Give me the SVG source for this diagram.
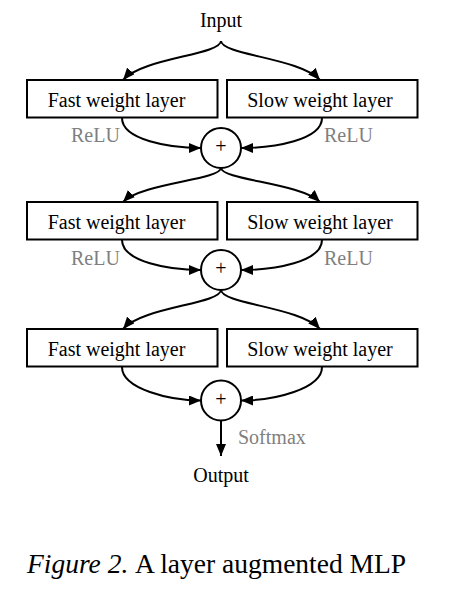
<svg xmlns="http://www.w3.org/2000/svg" width="457" height="610" viewBox="0 0 457 610">
<style>
  text { font-family: "Liberation Serif", "Times New Roman", serif; fill: #000; }
  .t { font-size: 20px; text-anchor: middle; }
  .lbl { font-size: 20px; fill: #7f7f7f; }
  .box { fill: #fff; stroke: #000; stroke-width: 2; }
  .sum { fill: #fff; stroke: #000; stroke-width: 2; }
  .plus { font-size: 20px; text-anchor: middle; }
  .edge { fill: none; stroke: #000; stroke-width: 2; marker-end: url(#arr); }
  .cap { font-size: 27.5px; }
</style>
<defs>
  <marker id="arr" markerUnits="userSpaceOnUse" markerWidth="13" markerHeight="10" refX="12" refY="5" orient="auto">
    <path d="M0,0 L12,5 L0,10 z" fill="#000"/>
  </marker>
</defs>
<rect width="457" height="610" fill="#fff"/>

<g id="connectors">
  <path class="edge" d="M221,41 C220,55 142,58 123,80"/>
  <path class="edge" d="M221,41 C222,55 300,58 320,80"/>
  <path class="edge" d="M122,118 C122,140 170,148 201,148"/>
  <path class="edge" d="M322,118 C322,140 274,148 241,148"/>
  <path class="edge" d="M221,168 C220,180 142,183 123,202"/>
  <path class="edge" d="M221,168 C222,180 300,183 320,202"/>
  <path class="edge" d="M122,240 C122,262 170,270 201,270"/>
  <path class="edge" d="M322,240 C322,262 274,270 241,270"/>
  <path class="edge" d="M221,290 C220,304 142,307 123,329"/>
  <path class="edge" d="M221,290 C222,304 300,307 320,329"/>
  <path class="edge" d="M122,367 C122,389 170,400.5 201,400.5"/>
  <path class="edge" d="M322,367 C322,389 274,400.5 241,400.5"/>
  <path class="edge" d="M221,420.5 L221,456"/>
  <text class="lbl" x="71" y="142">ReLU</text>
  <text class="lbl" x="324" y="142">ReLU</text>
  <text class="lbl" x="71" y="265">ReLU</text>
  <text class="lbl" x="324" y="265">ReLU</text>
  <text class="lbl" x="238" y="443.5">Softmax</text>
</g>

<g id="input"><text class="t" x="221" y="27">Input</text></g>

<g id="fast1"><rect class="box" x="27" y="80" width="190.5" height="37.5"/><text class="t" x="116.5" y="107">Fast weight layer</text></g>
<g id="slow1"><rect class="box" x="227" y="80" width="190.5" height="37.5"/><text class="t" x="320" y="107">Slow weight layer</text></g>
<g id="sum1"><circle class="sum" cx="221" cy="148" r="20"/><text class="plus" x="221" y="153">+</text></g>

<g id="fast2"><rect class="box" x="27" y="202" width="190.5" height="37.5"/><text class="t" x="116.5" y="228.5">Fast weight layer</text></g>
<g id="slow2"><rect class="box" x="227" y="202" width="190.5" height="37.5"/><text class="t" x="320" y="228.5">Slow weight layer</text></g>
<g id="sum2"><circle class="sum" cx="221" cy="270" r="20"/><text class="plus" x="221" y="275">+</text></g>

<g id="fast3"><rect class="box" x="27" y="329" width="190.5" height="37.5"/><text class="t" x="116.5" y="356">Fast weight layer</text></g>
<g id="slow3"><rect class="box" x="227" y="329" width="190.5" height="37.5"/><text class="t" x="320" y="356">Slow weight layer</text></g>
<g id="sum3"><circle class="sum" cx="221" cy="400.5" r="20"/><text class="plus" x="221" y="405.5">+</text></g>

<g id="output"><text class="t" x="221" y="482">Output</text></g>

<g id="caption">
  <text class="cap" x="27" y="573" font-style="italic">Figure 2.</text>
  <text class="cap" x="135" y="573">A layer augmented MLP</text>
</g>
</svg>
